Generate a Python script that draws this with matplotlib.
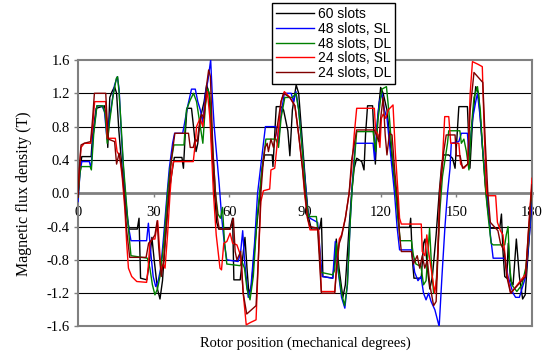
import matplotlib
matplotlib.use("Agg")
import matplotlib.pyplot as plt
from matplotlib.lines import Line2D

plt.rcParams['font.family'] = ['Liberation Serif', 'DejaVu Serif']

# rotor position (mechanical degrees) and flux density (T) for each winding
deg_60 = [0, 0.8, 1.5, 5.2, 5.8, 7.2, 10.5, 11.3, 11.8, 12.6, 13.5, 14.5, 15.3, 16.2, 17.3, 18.5, 19.5, 20.3, 23.5, 24.2,
          24.8, 27.3, 28.2, 29.3, 30.2, 31.5, 32.5, 33.5, 34.5, 35.5, 36.3, 37.5, 38.2, 41.2, 41.8, 42.5, 43.2, 45.0, 45.8,
          46.8, 47.5, 48.5, 50.0, 51.0, 52.0, 53.0, 54.0, 55.0, 55.8, 60.3, 61.3, 61.8, 64.3, 65.2, 66.2, 67.0, 67.8, 68.8,
          70.5, 72.0, 73.0, 74.0, 77.0, 77.3, 77.8, 78.6, 80.5, 81.5, 83.2, 84.0, 85.0, 86.5, 87.5, 89.0, 90.5, 91.5, 92.5,
          95.8, 96.5, 97.1, 101.0, 101.8, 102.4, 103.5, 105.0, 106.0, 107.5, 108.5, 109.5, 110.5, 112.5, 113.4, 114.0,
          114.8, 116.8, 117.5, 117.9, 118.8, 120.0, 121.0, 122.5, 124.0, 125.5, 126.5, 127.3, 131.5, 131.9, 132.6, 133.2,
          136.1, 137.0, 137.6, 138.5, 139.5, 140.5, 142.0, 143.2, 144.2, 145.0, 147.0, 148.5, 149.5, 150.3, 151.0, 154.4,
          155.0, 155.4, 156.5, 157.7, 158.8, 160.0, 161.5, 162.5, 163.5, 167.2, 167.9, 168.5, 169.2, 170.0, 170.6, 171.5,
          172.5, 173.8, 175.0, 176.3, 177.3, 178.5, 180]
b_60 = [-0.05, 0.3, 0.44, 0.44, 0.7, 1.02, 1.05, 0.9, 0.55, 1.15, 1.22, 1.28, 1.2, 0.75, 0.35, 0.0, -0.3, -0.43, -0.43, -0.3,
        -1.02, -1.04, -0.85, -0.53, -0.8, -1.15, -1.27, -1.05, -0.6, -0.2, 0.05, 0.3, 0.43, 0.43, 0.3, 0.7, 1.02, 1.02, 0.8,
        0.5, 0.6, 0.9, 1.1, 1.3, 1.2, 0.6, 0.05, -0.35, -0.43, -0.43, -0.3, -1.04, -1.04, -0.8, -0.53, -0.9, -1.22, -1.1,
        -0.5, -0.05, 0.3, 0.46, 0.46, 0.32, 0.6, 1.04, 1.04, 1.0, 0.75, 0.45, 1.0, 1.3, 1.2, 0.6, 0.0, -0.3, -0.43,
        -0.43, -0.3, -1.0, -1.02, -0.8, -0.55, -0.9, -1.25, -1.1, -0.4, 0.0, 0.3, 0.42, 0.38, 0.28, 0.7,
        1.05, 1.05, 0.6, 0.35, 0.9, 1.27, 1.2, 1.0, 0.55, 0.15, -0.1, -0.41, -0.41, -0.3, -0.8, -1.02,
        -1.02, -0.6, -0.55, -0.9, -1.15, -1.0, -0.5, 0.0, 0.35, 0.46, 0.46, 0.42, 0.3, 0.7, 1.04, 1.04,
        0.6, 0.3, 0.9, 1.28, 1.2, 0.7, 0.1, -0.2, -0.42, -0.42, -0.25, -0.7, -1.0, -1.02, -0.6, -1.05,
        -1.1, -0.55, -1.0, -1.27, -1.22, -0.7, -0.05]

deg_48sl = [0, 0.8, 1.5, 4.5, 5.2, 6.0, 7.5, 9.5, 10.5, 11.5, 12.5, 13.5, 14.5, 15.6, 16.3, 17.2, 18.2, 19.0, 20.0, 21.0,
            27.2, 27.9, 28.8, 29.8, 30.8, 31.8, 32.8, 34.0, 35.2, 36.2, 37.5, 38.3, 41.5, 42.3, 43.3, 45.0, 46.5, 47.5,
            48.5, 49.5, 50.5, 51.5, 52.6, 53.2, 54.0, 55.0, 56.0, 57.0, 58.0, 59.0, 63.5, 64.5, 65.3, 66.0, 67.5, 68.5,
            70.0, 71.2, 72.5, 74.3, 78.5, 79.5, 80.3, 81.8, 84.5, 85.5, 86.4, 87.5, 89.0, 90.5, 91.0, 92.0, 95.0, 96.0,
            96.8, 101.0, 102.0, 103.0, 104.5, 105.8, 106.8, 108.0, 108.7, 110.0, 117.0, 117.6, 118.5, 119.5, 120.5,
            121.5, 122.5, 124.0, 125.5, 126.5, 127.5, 132.2, 133.5, 134.8, 136.0, 137.0, 138.0, 139.0, 140.0, 141.5,
            143.2, 144.3, 145.5, 146.5, 147.5, 148.0, 151.0, 152.0, 154.4, 155.0, 156.5, 157.7, 158.4, 159.5, 160.5,
            161.5, 162.3, 163.5, 164.6, 169.2, 170.5, 172.5, 173.5, 175.0, 176.0, 177.5, 179.0, 180]
b_48sl = [-0.1, 0.25, 0.38, 0.38, 0.3, 0.7, 1.05, 1.05, 0.98, 0.65, 0.9, 1.1, 1.3, 1.4, 1.25, 0.7, 0.2, -0.1, -0.4, -0.57,
          -0.57, -0.36, -0.7, -1.0, -1.12, -1.05, -0.9, -0.5, -0.05, 0.3, 0.6, 0.72, 0.72, 0.85, 1.02, 1.25, 1.25, 1.1,
          1.0, 0.85, 1.2, 1.35, 1.6, 1.2, 0.8, 0.45, 0.1, -0.3, -0.6, -0.8, -0.82, -0.7, -0.45, -0.8, -1.25, -1.15,
          -0.6, 0.0, 0.34, 0.8, 0.8, 0.6, 0.9, 1.2, 1.2, 1.1, 1.22, 1.0, 0.5, 0.0, -0.2, -0.3, -0.35, -0.7,
          -1.0, -1.02, -0.58, -0.9, -1.25, -1.38, -1.1, -0.3, 0.1, 0.6, 0.6, 0.4, 0.8, 1.1, 1.2,
          1.0, 0.9, 0.45, 0.0, -0.4, -0.68, -0.68, -0.95, -1.05, -1.0, -1.2, -1.28, -1.2, -1.3, -1.4,
          -1.6, -1.0, -0.4, 0.0, 0.3, 0.6, 0.62, 0.72, 0.72, 0.46, 0.9, 1.1, 1.2, 0.9, 0.5,
          0.2, 0.0, -0.5, -0.78, -0.78, -1.0, -1.2, -1.25, -1.25, -1.15, -1.0, -0.5, -0.1]

deg_48dl = [0, 0.8, 1.3, 4.8, 5.3, 6.2, 7.5, 9.8, 10.8, 11.6, 12.5, 13.8, 15.2, 15.7, 16.3, 17.0, 18.0, 18.9, 19.6, 20.2,
            21.0, 27.5, 28.5, 29.5, 30.5, 31.5, 32.5, 34.0, 35.5, 36.5, 38.0, 42.0, 43.0, 44.5, 45.8, 47.0, 48.0, 49.5,
            50.5, 51.5, 52.3, 53.5, 54.5, 55.5, 56.5, 57.3, 58.0, 59.0, 64.3, 65.0, 66.0, 67.0, 68.2, 69.5, 71.0, 72.0,
            73.0, 74.5, 78.5, 79.5, 80.5, 82.0, 85.0, 86.4, 87.5, 89.0, 90.3, 91.0, 91.5, 94.5, 95.3, 96.3, 101.0, 101.8,
            102.4, 103.3, 104.5, 105.7, 106.8, 108.0, 108.8, 110.5, 117.0, 118.0, 119.0, 120.5, 122.3, 123.5, 124.5,
            126.0, 126.8, 127.8, 132.2, 133.0, 134.0, 136.0, 137.0, 138.0, 139.4, 140.2, 141.0, 142.0, 143.5, 144.5,
            145.5, 146.5, 147.0, 151.4, 152.0, 153.0, 154.0, 155.0, 156.0, 157.0, 158.4, 159.5, 160.5, 161.7, 162.7,
            163.8, 164.6, 169.2, 169.8, 170.5, 171.2, 172.0, 174.0, 176.0, 177.5, 178.5, 179.8, 180]
b_48dl = [-0.05, 0.25, 0.32, 0.32, 0.28, 0.7, 1.05, 1.05, 0.95, 0.6, 0.85, 1.15, 1.38, 1.4, 1.2, 0.86, 0.34, 0.0, -0.25, -0.5,
          -0.75, -0.78, -0.9, -1.1, -1.22, -1.15, -1.0, -0.6, 0.0, 0.3, 0.58, 0.58, 1.0, 1.12, 1.2, 1.1, 0.9, 0.6,
          1.05, 1.25, 1.15, 0.5, 0.0, -0.25, -0.3, -0.17, -0.55, -0.85, -0.87, -0.82, -0.9, -1.15, -1.28, -1.0, -0.3, 0.0,
          0.3, 0.65, 0.65, 0.55, 0.9, 1.15, 1.15, 1.2, 1.0, 0.5, 0.0, -0.2, -0.28, -0.28, -0.5, -0.95, -0.98, -0.92,
          -0.6, -0.95, -1.2, -1.35, -1.1, -0.3, 0.1, 0.74, 0.74, 0.5, 0.9, 1.25, 1.28, 0.9, 0.5,
          0.0, -0.3, -0.57, -0.57, -0.75, -0.85, -0.88, -1.1, -1.05, -0.42, -0.9, -1.2, -1.1, -0.2, 0.2,
          0.4, 0.6, 0.75, 0.75, 0.6, 0.65, 0.5, 0.28, 0.8, 1.15, 1.28, 1.0, 0.5, 0.0, -0.3,
          -0.6, -0.62, -0.62, -0.5, -0.4, -0.9, -1.1, -1.18, -1.1, -0.9, -0.6, 0.0, 0.05]

deg_24sl = [0, 0.5, 1.2, 2.5, 5.0, 5.8, 6.6, 11.0, 11.6, 14.8, 15.5, 16.5, 17.5, 18.6, 19.3, 20.0, 21.3, 23.3, 27.2, 27.8,
            28.5, 29.3, 30.5, 31.6, 32.2, 32.9, 33.8, 34.5, 35.5, 36.5, 37.0, 37.8, 45.7, 46.5, 47.0, 48.4, 49.5, 50.3,
            51.3, 52.3, 53.7, 54.8, 56.3, 56.9, 57.8, 59.0, 60.3, 61.3, 63.0, 64.5, 65.5, 66.7, 68.5, 70.6, 71.5, 72.5,
            73.5, 76.0, 76.5, 78.0, 79.0, 80.5, 81.8, 84.0, 86.0, 87.5, 89.0, 89.8, 91.0, 92.0, 95.4, 96.5, 101.8, 102.5,
            103.6, 104.5, 106.0, 107.5, 108.5, 109.5, 110.5, 117.5, 118.0, 119.0, 119.7, 120.3, 121.0, 122.0, 123.0,
            124.9, 125.8, 126.9, 127.5, 128.2, 136.1, 136.5, 137.5, 138.3, 139.0, 140.0, 141.4, 142.3, 143.0, 143.4,
            144.5, 145.4, 147.0, 147.8, 151.0, 151.7, 153.0, 154.5, 155.5, 156.4, 158.5, 160.3, 161.0, 162.0, 162.5,
            165.6, 166.3, 167.5, 168.5, 170.0, 171.6, 177.5, 178.5, 180]
b_24sl = [0.0, 0.25, 0.55, 0.6, 0.6, 0.8, 1.1, 1.1, 0.66, 0.66, 0.5, 0.45, 0.2, -0.2, -0.6, -0.9, -1.0, -1.06, -1.07, -0.9,
          -0.6, -0.55, -0.55, -0.33, -0.6, -0.93, -0.85, -0.9, -0.5, 0.0, 0.2, 0.38, 0.38, 0.6, 0.8, 0.9, 0.8, 1.05,
          1.22, 0.9, 0.0, -0.5, -0.9, -0.92, -0.6, -0.58, -0.48, -0.6, -0.62, -0.75, -1.2, -1.58, -1.55, -1.52, -0.8, -0.1,
          0.03, 0.05, 0.28, 0.3, 0.6, 1.1, 1.22, 1.15, 1.05, 0.7, 0.3, 0.0, -0.3, -0.44, -0.44, -1.18, -1.18, -0.9,
          -0.55, -0.5, -0.3, 0.0, 0.3, 0.7, 1.02, 1.02, 0.75, 0.7, 0.55, 0.9, 0.95, 0.9, 1.0,
          1.06, 0.5, 0.0, -0.3, -0.37, -0.37, -0.7, -0.75, -0.5, -0.7, -0.9, -1.2, -1.0, -0.4, 0.0,
          0.4, 0.92, 0.92, 0.6, 0.6, 0.35, 0.3, 0.35, 1.2, 1.58, 1.55, 1.52, 0.8, 0.0, -0.03,
          -0.03, -0.35, -0.45, -0.5, -0.95, -1.2, -0.97, -0.5, 0.18]

deg_24dl = [0, 0.5, 1.2, 2.5, 5.0, 5.8, 6.5, 11.0, 11.5, 12.0, 14.5, 15.3, 16.3, 17.3, 18.3, 19.3, 20.5, 27.0, 28.0, 29.5,
            30.5, 31.4, 32.0, 33.0, 34.0, 35.0, 36.0, 37.0, 38.4, 43.8, 44.5, 45.7, 46.5, 47.3, 48.0, 49.0, 50.0, 51.0,
            51.8, 52.5, 53.5, 54.5, 55.3, 56.0, 60.3, 61.6, 62.3, 63.0, 64.5, 65.5, 66.9, 70.6, 71.5, 72.5, 73.5, 74.2,
            75.0, 75.5, 76.5, 77.5, 79.0, 80.5, 81.5, 84.0, 86.0, 87.5, 89.0, 90.0, 91.0, 92.0, 95.0, 96.5, 101.8, 102.5,
            103.6, 104.5, 106.0, 107.5, 108.5, 110.5, 117.5, 118.5, 119.3, 120.0, 121.0, 121.8, 122.5, 123.5, 124.5,
            125.5, 126.7, 127.5, 128.2, 132.2, 133.0, 134.5, 135.5, 136.5, 137.5, 138.5, 139.5, 141.0, 142.0, 143.0,
            143.5, 145.0, 146.0, 149.5, 150.0, 151.5, 152.5, 154.5, 155.5, 157.0, 160.5, 161.5, 162.5, 163.5, 165.0,
            166.5, 167.5, 169.0, 170.0, 171.5, 177.5, 178.5, 180]
b_24dl = [-0.05, 0.3, 0.58, 0.6, 0.62, 0.9, 1.2, 1.2, 0.9, 0.65, 0.62, 0.35, 0.48, 0.3, 0.0, -0.45, -0.77, -0.77, -0.6, -0.55,
          -0.5, -0.33, -0.65, -1.0, -0.8, -0.4, 0.0, 0.4, 0.72, 0.72, 0.55, 0.55, 0.65, 0.62, 0.8, 0.95, 0.9, 1.3,
          1.48, 1.4, 0.5, 0.0, -0.3, -0.43, -0.43, -0.3, -0.7, -0.8, -0.7, -1.2, -1.45, -1.35, -0.8, 0.0, 0.4, 0.55,
          0.6, 0.5, 0.65, 0.55, 0.8, 1.1, 1.2, 1.15, 1.05, 0.7, 0.3, 0.0, -0.3, -0.4, -0.42, -1.2, -1.2, -0.9,
          -0.6, -0.52, -0.3, 0.0, 0.4, 0.76, 0.76, 0.68, 0.62, 0.9, 1.15, 0.7, 0.46, 0.72, 0.7,
          0.3, -0.1, -0.5, -0.7, -0.7, -0.85, -0.75, -0.9, -0.75, -0.9, -0.8, -1.1, -1.35, -1.3, -0.5,
          0.0, 0.5, 0.7, 0.7, 0.45, 0.45, 0.3, 0.35, 1.0, 1.45, 1.33, 0.6, 0.0, -0.35, -0.4,
          -0.45, -0.6, -0.7, -1.0, -1.2, -1.0, -0.5, 0.1]

labels = ['60 slots', '48 slots, SL', '48 slots, DL', '24 slots, SL', '24 slots, DL']
colors = ['#000000', '#0000ff', '#008000', '#ff0000', '#800000']
series = [(deg_60, b_60), (deg_48sl, b_48sl), (deg_48dl, b_48dl), (deg_24sl, b_24sl), (deg_24dl, b_24dl)]

yticks = [-1.6, -1.2, -0.8, -0.4, 0.0, 0.4, 0.8, 1.2, 1.6]
xticks = [0, 30, 60, 90, 120, 150, 180]

fig = plt.figure(figsize=(5.56, 3.56), dpi=100)
ax = fig.add_axes([0.1403, 0.0829, 0.8165, 0.7486])

grey = '#808080'
for v in yticks:
    if v not in (-1.6, 0.0, 1.6):
        ax.axhline(v, color='black', lw=0.8, zorder=1)

handles = []
for (x, y), c, lab in zip(series, colors, labels):
    ax.plot(x, y, color=c, lw=1.0, zorder=3)
    handles.append(Line2D([], [], color=c, lw=1.0, label=lab))

ax.set_xlim(0, 180)
ax.set_ylim(-1.6, 1.6)

for s in ['left', 'right', 'top', 'bottom']:
    ax.spines[s].set_color(grey)
    ax.spines[s].set_linewidth(1.5)
ax.spines['bottom'].set_position(('data', 0))
ax.spines['bottom'].set_linewidth(2.0)
ax.spines['bottom'].set_zorder(2)
ax.axhline(-1.6, color=grey, lw=1.5, clip_on=False, zorder=2)

ax.set_xticks(xticks)
ax.set_xticklabels([str(t) for t in xticks])
ax.set_yticks(yticks)
ax.set_yticklabels(['%.1f' % t for t in yticks])
ax.tick_params(axis='x', direction='out', length=3, width=1, color=grey, pad=6, labelsize=10.5)
ax.tick_params(axis='y', direction='out', length=3, width=1, color=grey, pad=3, labelsize=10.5)

ax.set_ylabel('Magnetic flux density (T)', fontsize=11.5)
ax.yaxis.set_label_coords(-0.102, 0.5)
ax.set_xlabel('Rotor position (mechanical degrees)', fontsize=10.5, va='center')
ax.xaxis.set_label_coords(0.5, -0.062)

leg = fig.legend(handles=handles, loc='upper left', bbox_to_anchor=(272 / 556, 1 - 3 / 356),
                 frameon=True, fancybox=False, edgecolor='black', framealpha=1,
                 prop={'family': 'Liberation Sans', 'size': 10}, labelspacing=0.05,
                 handlelength=2.7, handletextpad=0.3, borderpad=0.3, borderaxespad=0)
leg.get_frame().set_linewidth(1.0)

fig.savefig('out.png', dpi=100)
